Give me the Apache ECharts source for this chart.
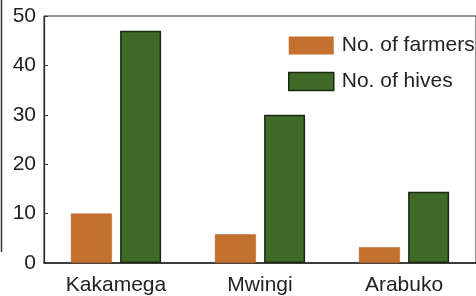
<!DOCTYPE html>
<html>
<head>
<meta charset="utf-8">
<script src="https://cdn.jsdelivr.net/npm/echarts@6/dist/echarts.min.js"></script>
<style>html,body{margin:0;padding:0;background:#fff;}#c{width:476px;height:296px;}</style>
</head>
<body>
<div id="c"></div>
<script>
const categories = ['Kakamega', 'Mwingi', 'Arabuko'];
const farmers = [10, 5.8, 3.2];
const hives = [47, 30, 14.4];
const yTicks = [0, 10, 20, 30, 40, 50];

const chart = echarts.init(document.getElementById('c'), null, {renderer: 'canvas'});
const font = '"Liberation Sans", Arial, sans-serif';
chart.setOption({
  animation: false,
  backgroundColor: '#fff',
  grid: {left: 44, top: 16, width: 438, height: 248, show: true, borderColor: '#2a2a2a', borderWidth: 1, backgroundColor: 'transparent'},
  legend: {
    orient: 'vertical', left: 288, top: 35, itemWidth: 45, itemHeight: 18, itemGap: 15,
    padding: 0,
    textStyle: {fontFamily: font, fontSize: 21, color: '#222', padding: [0, 0, 0, 3]},
    itemStyle: {borderWidth: 0},
    data: [{name: 'No. of farmers', icon: 'rect'}, {name: 'No. of hives', icon: 'rect', itemStyle: {borderColor: '#1a2a10', borderWidth: 1.5}}]
  },
  xAxis: {
    type: 'category', data: categories,
    axisLine: {lineStyle: {color: '#222', width: 1.5}},
    axisTick: {inside: true, length: 5, lineStyle: {color: '#333'}},
    axisLabel: {fontFamily: font, fontSize: 21, color: '#222', margin: 12}
  },
  yAxis: {
    type: 'value', min: 0, max: yTicks[yTicks.length - 1], interval: 10,
    axisLine: {show: true, lineStyle: {color: '#222', width: 1.2}},
    axisTick: {show: true, inside: true, length: 4, lineStyle: {color: '#333'}},
    splitLine: {show: false},
    axisLabel: {fontFamily: font, fontSize: 21, color: '#222', margin: 8}
  },
  series: [
    {name: 'No. of farmers', type: 'bar', data: farmers, barWidth: 41, barGap: '20%',
     itemStyle: {color: '#c4702f', borderColor: '#b5602a', borderWidth: 0.5}},
    {name: 'No. of hives', type: 'bar', data: hives, barWidth: 41,
     itemStyle: {color: '#3f6a28', borderColor: '#1a2a10', borderWidth: 1.5}}
  ],
  graphic: [
    {type: 'line', shape: {x1: 1.5, y1: 0, x2: 1.5, y2: 252}, style: {stroke: '#2f3a22', lineWidth: 1.5}}
  ]
});
</script>
</body>
</html>
